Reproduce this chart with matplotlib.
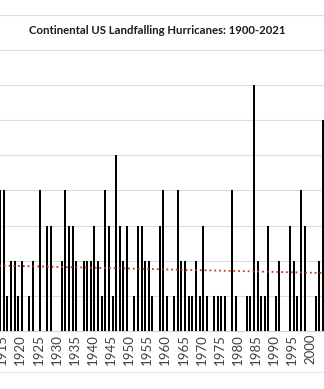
import numpy as np
import matplotlib.pyplot as plt
from matplotlib.transforms import ScaledTranslation

plt.rcParams['font.family'] = ['Lato', 'DejaVu Sans']

# landfalling hurricanes per year, 1900-2021
years = list(range(1900, 2022))
hurricanes = [
    1, 3, 1, 2, 1, 0, 3, 1, 1, 4,   # 1900s
    1, 2, 2, 2, 0, 4, 4, 1, 2, 2,   # 1910s
    1, 2, 0, 1, 2, 0, 4, 0, 3, 3,   # 1920s
    0, 0, 2, 4, 3, 3, 2, 0, 2, 2,   # 1930s
    2, 3, 2, 1, 4, 3, 1, 5, 3, 2,   # 1940s
    3, 0, 1, 3, 3, 2, 2, 1, 0, 3,   # 1950s
    4, 1, 0, 1, 4, 2, 2, 1, 1, 2,   # 1960s
    1, 3, 1, 0, 1, 1, 1, 1, 0, 4,   # 1970s
    1, 0, 0, 1, 1, 7, 2, 1, 1, 3,   # 1980s
    0, 1, 2, 0, 0, 3, 2, 1, 4, 3,   # 1990s
    0, 0, 1, 2, 6, 5, 0, 1, 2, 0,   # 2000s
    0, 1, 0, 0, 1, 0, 2, 3, 2, 1,   # 2010s
    6, 2,                           # 2020s
]
tick_years = list(range(1915, 2005, 5))

fig = plt.figure(figsize=(3.24, 3.89), dpi=100)
ax = fig.add_axes([0, 58 / 389, 1, 331 / 389])

ax.bar(years, hurricanes, width=0.56, color='black', zorder=3)

# linear trend over the whole record
coef = np.polyfit(years, hurricanes, 1)
trend = np.polyval(coef, years)
ax.plot(years, trend, color='#c0392b', linestyle=':', linewidth=1.3, zorder=4)

ax.set_xlim(1914.945, 2004.324)
ax.set_ylim(0, 331 / 35.14)
ax.set_yticks(range(1, 10))
ax.yaxis.grid(True, color='#dcdcdc', linewidth=0.8)
ax.set_axisbelow(True)
ax.tick_params(axis='y', left=False, labelleft=False)

ax.set_xticks(tick_years)
ax.set_xticklabels([str(y) for y in tick_years], rotation=90, fontsize=9.5,
                   color='#404040')
ax.tick_params(axis='x', length=0, pad=2)
for lab in ax.get_xticklabels():
    lab.set_transform(lab.get_transform() +
                      ScaledTranslation(2 / 100, 0, fig.dpi_scale_trans))

for side in ['top', 'left', 'right']:
    ax.spines[side].set_visible(False)
ax.spines['bottom'].set_color('#d0d0d0')
ax.spines['bottom'].set_linewidth(0.8)

# faint frame line under the labels
fig.add_artist(plt.Line2D([0, 1], [17 / 389, 17 / 389], color='#e6e6e6',
                          linewidth=0.8))

fig.text(157.5 / 324, 1 - 30 / 389, 'Continental US Landfalling Hurricanes: 1900-2021',
         ha='center', va='center', fontsize=8.2, fontweight='bold', color='#1a1a1a')

plt.savefig('out.png', dpi=100)
